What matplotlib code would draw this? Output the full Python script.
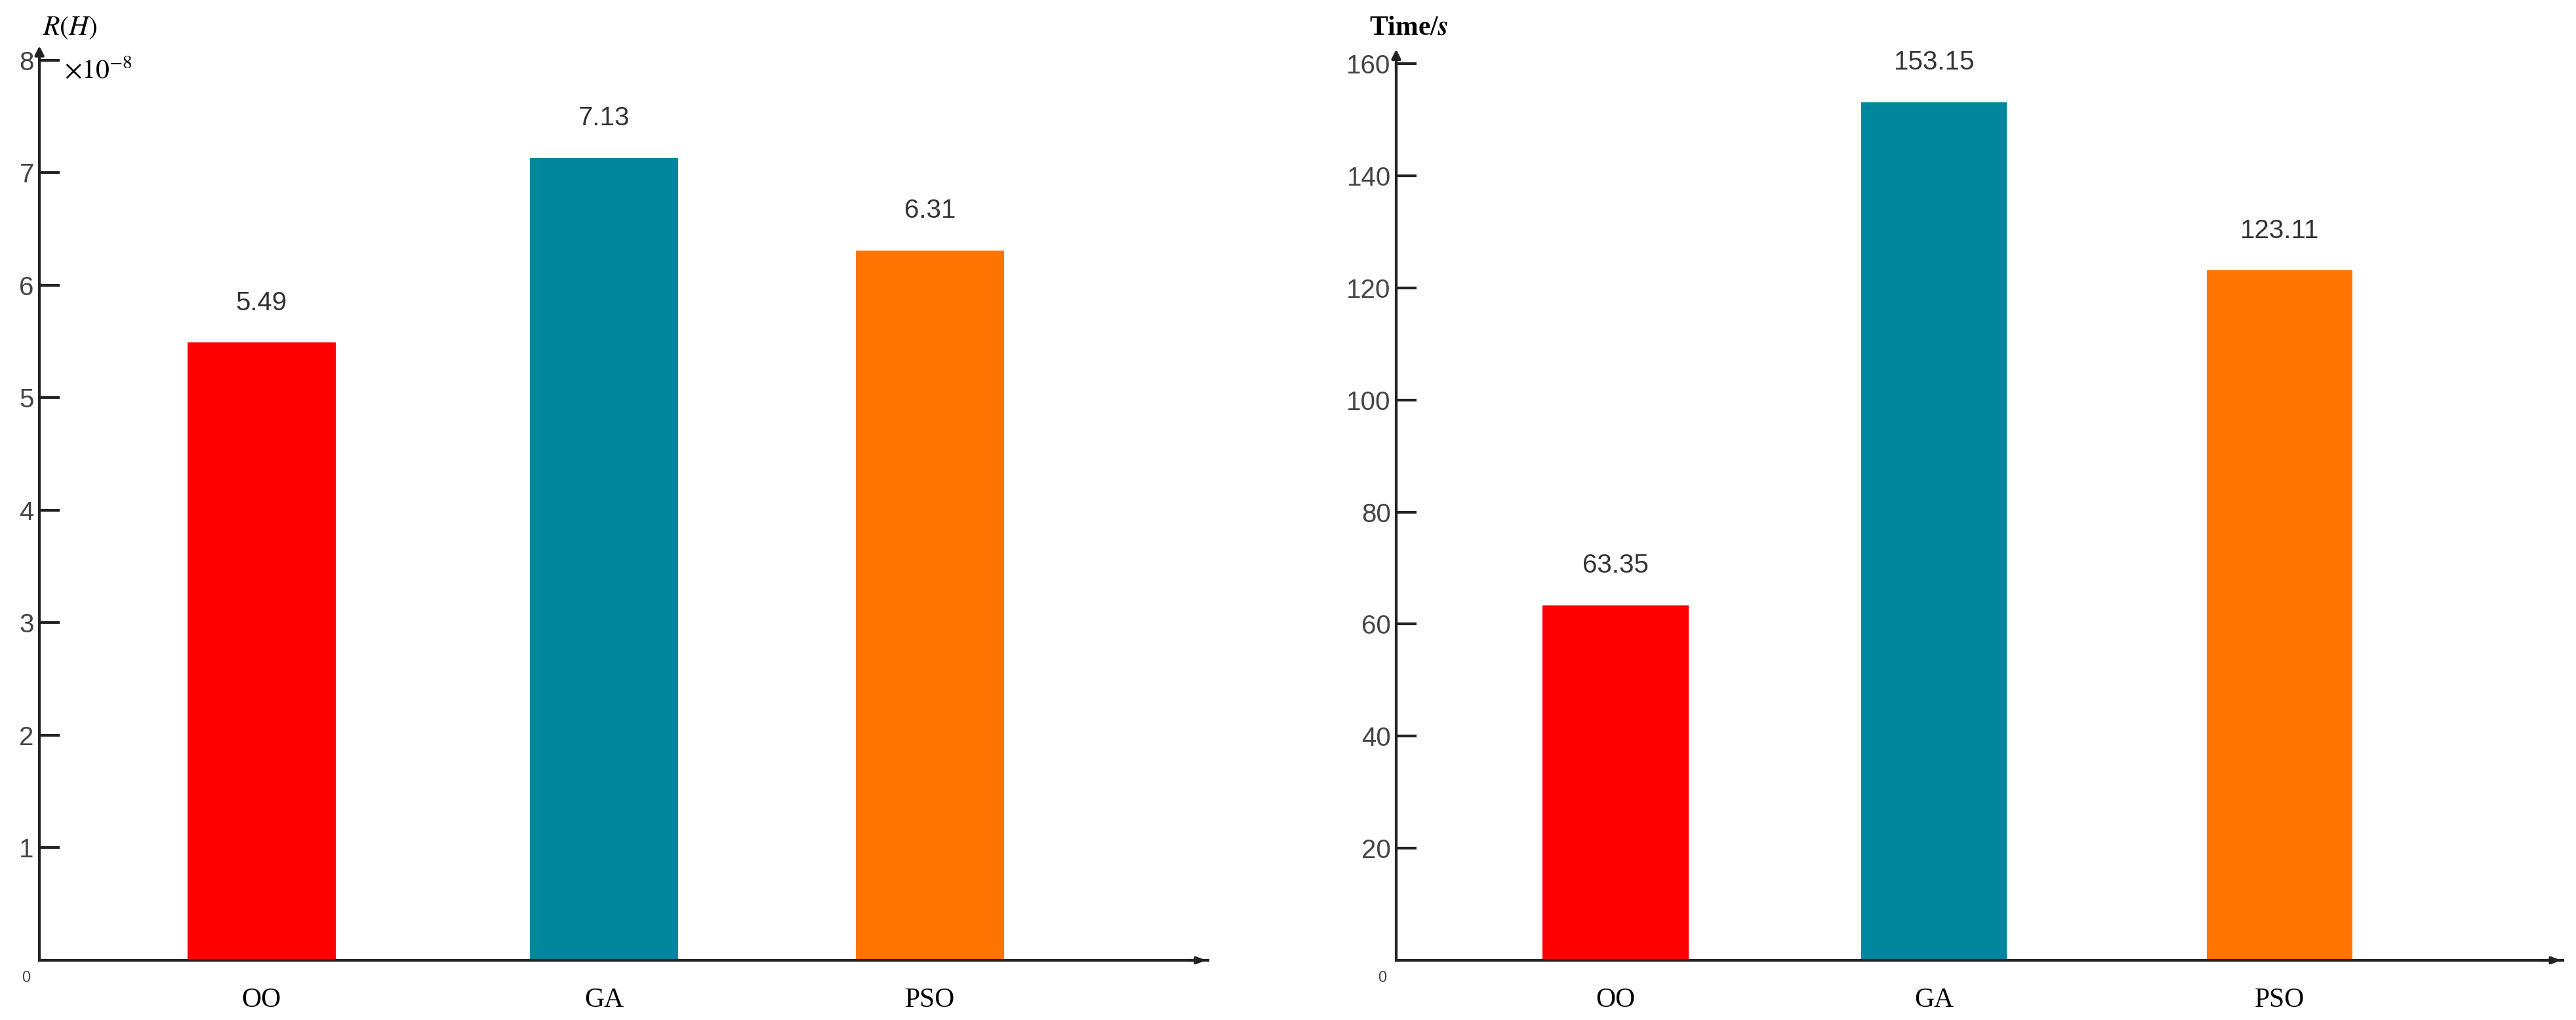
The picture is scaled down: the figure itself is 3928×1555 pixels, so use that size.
import matplotlib
matplotlib.use("Agg")
import matplotlib.pyplot as plt

plt.rcParams["mathtext.fontset"] = "stix"

categories = ["OO", "GA", "PSO"]
rh_values = [5.49, 7.13, 6.31]
time_values = [63.35, 153.15, 123.11]
colors = ["#FF0000", "#00879E", "#FF7300"]

fig = plt.figure(figsize=(39.28, 15.55), dpi=100)
ax1 = fig.add_axes([0.0153, 0.0585, 0.4537, 0.8825])
ax2 = fig.add_axes([0.542, 0.0585, 0.453, 0.8791])

def style(ax, pos, vals, ymax, yticks, fmt, width):
    ax.bar(pos, vals, width=width, color=colors)
    for p, v in zip(pos, vals):
        ax.annotate(fmt.format(v), (p, v), xytext=(0, 30), textcoords="offset points",
                    ha="center", va="bottom", fontsize=29, color="#333333",
                    family="Liberation Sans")
    ax.set_xlim(0, 1)
    ax.set_ylim(0, ymax)
    for s in ["top", "right"]:
        ax.spines[s].set_visible(False)
    for s in ["left", "bottom"]:
        ax.spines[s].set_linewidth(3)
        ax.spines[s].set_color("#222222")
    ax.set_yticks(yticks)
    ax.set_yticklabels([str(t) for t in yticks], fontsize=29, color="#444444",
                       family="Liberation Sans")
    ax.tick_params(axis="y", direction="in", length=22, width=3, pad=6, color="#222222")
    ax.set_xticks(pos)
    ax.set_xticklabels(categories, fontsize=30, family="Liberation Serif")
    ax.tick_params(axis="x", length=0, pad=30)
    ax.annotate("", xy=(0, 1.018), xytext=(0, 0.99), xycoords="axes fraction",
                arrowprops=dict(arrowstyle="-|>,head_length=0.8,head_width=0.4",
                                color="#222222", lw=3))
    ax.annotate("", xy=(1.0, 0), xytext=(0.98, 0), xycoords="axes fraction",
                arrowprops=dict(arrowstyle="-|>,head_length=0.8,head_width=0.3",
                                color="#222222", lw=3))
    ax.text(-0.008, -0.012, "0", transform=ax.transAxes, ha="right", va="top",
            fontsize=17, color="#444444", family="Liberation Sans")

style(ax1, [0.19, 0.483, 0.762], rh_values, 8, [1, 2, 3, 4, 5, 6, 7, 8], "{:.2f}", 0.127)
style(ax2, [0.188, 0.461, 0.757], time_values, 160, [20, 40, 60, 80, 100, 120, 140, 160], "{:.2f}", 0.125)

ax1.text(0.003, 1.037, "$R(H)$", transform=ax1.transAxes, fontsize=30,
         ha="left", va="center")
ax1.text(0.021, 1.004, r"$\times10^{-8}$", transform=ax1.transAxes, fontsize=30,
         ha="left", va="top")
ax2.text(-0.023, 1.04, r"Time/$\boldsymbol{s}$", transform=ax2.transAxes, fontsize=30,
         ha="left", va="center", family="Liberation Serif", fontweight="bold")

fig.savefig("out.png", dpi=100)
